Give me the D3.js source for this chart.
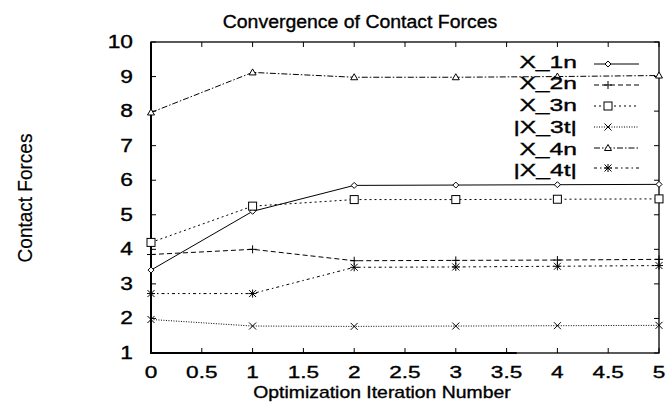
<!DOCTYPE html>
<html>
<head>
<meta charset="utf-8">
<script src="https://cdn.jsdelivr.net/npm/d3@7"></script>
<style>
  body { margin: 0; background: #fff; }
  text { font-family: "Liberation Sans", Arial, sans-serif; fill: #000; stroke: #000; stroke-width: 0.35; }
</style>
</head>
<body>
<svg id="chart" width="666" height="402"></svg>
<script>
// data
var iterations = [0, 1, 2, 3, 4, 5];
var seriesNames = ["X_1n", "X_2n", "X_3n", "|X_3t|", "X_4n", "|X_4t|"];
var x1n = [3.4, 5.1, 5.85, 5.86, 5.87, 5.88];
var x2n = [3.85, 4.0, 3.67, 3.68, 3.69, 3.71];
var x3n = [4.2, 5.25, 5.44, 5.44, 5.45, 5.46];
var x3t = [1.97, 1.78, 1.77, 1.78, 1.79, 1.8];
var x4n = [7.96, 9.12, 8.98, 8.98, 9.0, 9.03];
var x4t = [2.72, 2.72, 3.48, 3.49, 3.51, 3.53];
var xTicks = [0, 0.5, 1, 1.5, 2, 2.5, 3, 3.5, 4, 4.5, 5];
var yTicks = [1, 2, 3, 4, 5, 6, 7, 8, 9, 10];

var allSeries = [x1n, x2n, x3n, x3t, x4n, x4t];
var dashes = [null, "5,3", "2,3", "1,1.5", "6,2,1.5,2", "3,3,1.5,3"];
var markers = ["diamond", "plus", "square", "cross", "triangle", "star"];

var W = 666, H = 402;
var margin = {top: 42, right: 7, bottom: 49, left: 151};
var svg = d3.select("#chart");

var x = d3.scaleLinear().domain([0, 5]).range([margin.left, W - margin.right]);
var y = d3.scaleLinear().domain([1, 10]).range([H - margin.bottom, margin.top]);

// stretch text horizontally (the scan is a bit wide)
function stretch(sel, k) {
    sel.each(function() {
        var len = this.getComputedTextLength();
        d3.select(this).attr("textLength", len * k).attr("lengthAdjust", "spacingAndGlyphs");
    });
}

// frame
svg.append("rect")
    .attr("x", x(0)).attr("y", y(10))
    .attr("width", x(5) - x(0)).attr("height", y(1) - y(10))
    .attr("fill", "none").attr("stroke", "#000").attr("stroke-width", 1.3);
// left and bottom edges print heavier in the scan
svg.append("path")
    .attr("d", "M" + x(0) + "," + y(10) + "V" + y(1) + "H" + x(3.6))
    .attr("fill", "none").attr("stroke", "#000").attr("stroke-width", 2);

// inward ticks on all four sides
var tl = 5;
var tickG = svg.append("g").attr("stroke", "#000").attr("stroke-width", 1);
xTicks.forEach(function(t) {
    tickG.append("line").attr("x1", x(t)).attr("x2", x(t)).attr("y1", y(1)).attr("y2", y(1) - tl);
    tickG.append("line").attr("x1", x(t)).attr("x2", x(t)).attr("y1", y(10)).attr("y2", y(10) + tl);
});
yTicks.forEach(function(t) {
    tickG.append("line").attr("x1", x(0)).attr("x2", x(0) + tl).attr("y1", y(t)).attr("y2", y(t));
    tickG.append("line").attr("x1", x(5)).attr("x2", x(5) - tl).attr("y1", y(t)).attr("y2", y(t));
});

// tick labels
svg.append("g").selectAll("text").data(xTicks).join("text")
    .attr("x", function(d) { return x(d); })
    .attr("y", y(1) + 25)
    .attr("text-anchor", "middle")
    .attr("font-size", 17)
    .text(function(d) { return d; })
    .call(stretch, 1.33);

svg.append("g").selectAll("text").data(yTicks).join("text")
    .attr("x", x(0) - 18)
    .attr("y", function(d) { return y(d) + 6; })
    .attr("text-anchor", "end")
    .attr("font-size", 17.5)
    .text(function(d) { return d; })
    .call(stretch, 1.3);

// titles
svg.append("text").attr("x", 360).attr("y", 28).attr("text-anchor", "middle")
    .attr("font-size", 18).text("Convergence of Contact Forces").call(stretch, 1.08);
svg.append("text").attr("x", 382).attr("y", 398).attr("text-anchor", "middle")
    .attr("font-size", 17).text("Optimization Iteration Number").call(stretch, 1.14);
svg.append("text")
    .attr("transform", "translate(32,198) rotate(-90)")
    .attr("text-anchor", "middle").style("stroke-width", 0.2)
    .attr("font-size", 20).text("Contact Forces").call(stretch, 0.95);

function drawMarker(g, type, cx, cy) {
    var m = g.append("g").attr("transform", "translate(" + cx + "," + cy + ")")
        .attr("stroke", "#000").attr("stroke-width", 1).attr("fill", "none");
    if (type === "diamond") {
        m.append("path").attr("d", "M0,-3L3,0L0,3L-3,0Z").attr("fill", "#fff");
    } else if (type === "plus") {
        m.append("path").attr("d", "M-4,0H4M0,-4V4");
    } else if (type === "square") {
        m.append("rect").attr("x", -4).attr("y", -4).attr("width", 8).attr("height", 8).attr("fill", "#fff");
    } else if (type === "cross") {
        m.append("path").attr("d", "M-3.5,-3.5L3.5,3.5M-3.5,3.5L3.5,-3.5");
    } else if (type === "triangle") {
        m.append("path").attr("d", "M0,-3.5L3.5,2.5L-3.5,2.5Z").attr("fill", "#fff");
    } else if (type === "star") {
        m.append("path").attr("d", "M-3.5,-3.5L3.5,3.5M-3.5,3.5L3.5,-3.5M-4,0H4M0,-4V4");
    }
}

var line = d3.line()
    .x(function(d, i) { return x(iterations[i]); })
    .y(function(d) { return y(d); });

allSeries.forEach(function(s, k) {
    var g = svg.append("g");
    g.append("path").datum(s).attr("d", line)
        .attr("fill", "none").attr("stroke", "#000").attr("stroke-width", 1)
        .attr("stroke-dasharray", dashes[k]);
    s.forEach(function(v, i) { drawMarker(g, markers[k], x(iterations[i]), y(v)); });
});

// legend
var legText = [68, 89, 111, 133, 155, 176];
var legLine = [64, 85, 106, 127, 148, 168];
var leg = svg.append("g");
seriesNames.forEach(function(name, k) {
    leg.append("text").attr("x", 577).attr("y", legText[k])
        .attr("text-anchor", "end").attr("font-size", 17)
        .text(name).call(stretch, 1.45);
    leg.append("line").attr("x1", 594).attr("x2", 639).attr("y1", legLine[k]).attr("y2", legLine[k])
        .attr("stroke", "#000").attr("stroke-width", 1).attr("stroke-dasharray", dashes[k]);
    drawMarker(leg, markers[k], 608, legLine[k]);
});
</script>
</body>
</html>
